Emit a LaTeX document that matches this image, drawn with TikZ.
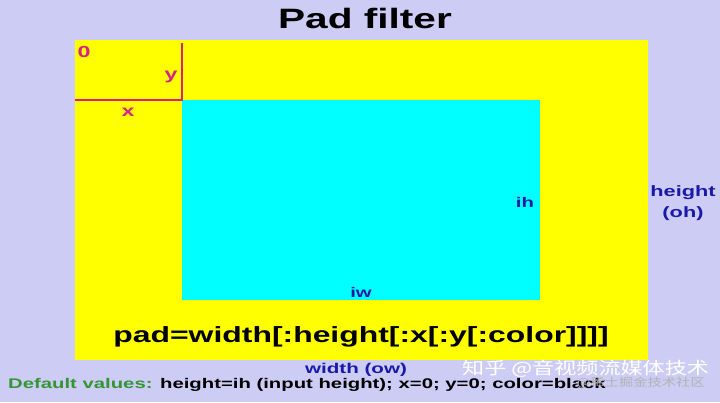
\documentclass[tikz,border=0pt]{standalone}
\usepackage{fontspec}
\setmainfont{Liberation Sans}[FakeStretch=1.45]
\newfontfamily\cjk{Noto Sans CJK SC}[FakeStretch=1.3]
\usetikzlibrary{positioning}

\definecolor{bgblue}{RGB}{204,204,245}
\definecolor{padyellow}{RGB}{255,255,0}
\definecolor{incyan}{RGB}{0,255,255}
\definecolor{labblue}{RGB}{26,26,170}
\definecolor{labpink}{RGB}{214,34,136}
\definecolor{labgreen}{RGB}{51,150,51}

\tikzset{
  lab/.style={inner sep=0pt, anchor=base, font=\bfseries\fontsize{#1}{#1}\selectfont},
  lab/.default=15,
  pinkline/.style={draw=labpink, line width=2.6pt},
}

\begin{document}
\begin{tikzpicture}[x=1pt, y=-1pt]
  \fill[bgblue] (0,0) rectangle (720,402);
  \useasboundingbox (0,0) rectangle (720,402);

  % output frame and input picture
  \node [fill=padyellow, inner sep=0pt, anchor=north west, minimum width=573pt, minimum height=320pt](out) at (75,40) {};
  \node [fill=incyan, inner sep=0pt, anchor=north west, minimum width=358pt, minimum height=200pt](in) at (182,100) {};

  % x and y offsets
  \draw[pinkline] (out.west |- in.north west) -- (in.north west) -- ([yshift=-3pt]in.north west |- out.north);

  \node [lab=28](title) at (365,28) {Pad filter};
  \node [lab=16, text=labpink](zero) at (84,57) {0};
  \node [lab=16, text=labpink](ylab) at (171,79) {y};
  \node [lab=16, text=labpink](xlab) at (128,116) {x};

  \node [lab=14, text=labblue](ih) at (525,207) {ih};
  \node [lab=14, text=labblue](iw) at (361,297) {iw};
  \node [lab=15, text=labblue, align=center](oh) at (683,217) {height\\[6pt](oh)};
  \node [lab=14.2, text=labblue](ow) at (356,373.5) {width (ow)};

  \node [lab=22](syntax) at (361,342) {pad=width[:height[:x[:y[:color]]]]};
  \node [lab=14, anchor=base west](defaults) at (8,388) {\textcolor{labgreen}{Default values:} height=ih (input height); x=0; y=0; color=black};

  % watermark
  \node [inner sep=0pt, anchor=base west, text=white, font=\cjk\fontsize{17}{17}\selectfont](mark) at (462,374) {知乎 @音视频流媒体技术};
  \node [inner sep=0pt, anchor=base east, text=gray!60, font=\cjk\fontsize{11}{11}\selectfont](mark2) at (705,386) {@稀土掘金技术社区};
\end{tikzpicture}
\end{document}
